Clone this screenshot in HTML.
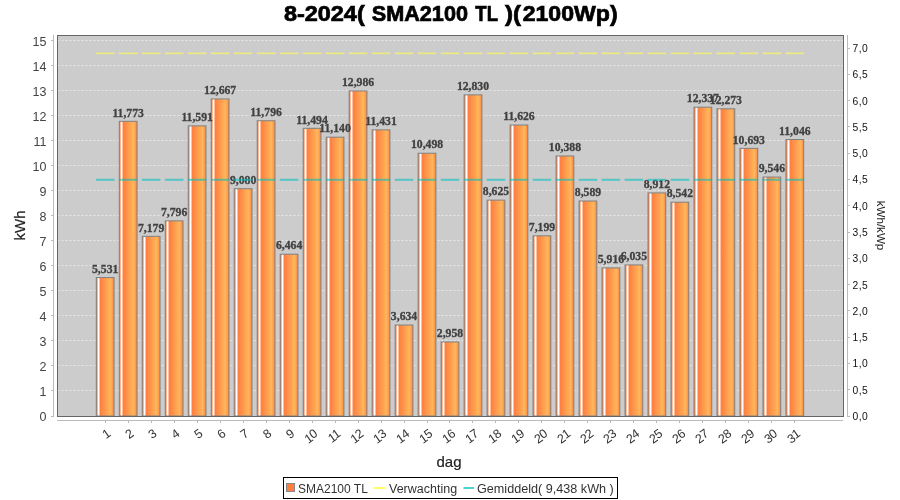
<!DOCTYPE html><html><head><meta charset="utf-8"><style>html,body{margin:0;padding:0;background:#fff;width:900px;height:500px;overflow:hidden}svg{display:block;will-change:transform}</style></head><body>
<svg width="900" height="500" viewBox="0 0 900 500">
<defs>
<linearGradient id="bg" x1="0" y1="0" x2="1" y2="0"><stop offset="0" stop-color="#FF8040"/><stop offset="0.1" stop-color="#fff"/><stop offset="0.2" stop-color="#FF8040"/><stop offset="0.8" stop-color="#FFB75B"/><stop offset="1" stop-color="#FF8040"/></linearGradient>
</defs>
<rect x="0" y="0" width="900" height="500" fill="#fff"/>
<text x="283.90" y="21" font-family='"Liberation Sans", sans-serif' font-weight="bold" font-size="21.5" fill="#000" stroke="#000" stroke-width="0.7" textLength="80.80" lengthAdjust="spacingAndGlyphs">8-2024(</text>
<text x="371.70" y="21" font-family='"Liberation Sans", sans-serif' font-weight="bold" font-size="21.5" fill="#000" stroke="#000" stroke-width="0.7" textLength="96.30" lengthAdjust="spacingAndGlyphs">SMA2100</text>
<text x="475.30" y="21" font-family='"Liberation Sans", sans-serif' font-weight="bold" font-size="21.5" fill="#000" stroke="#000" stroke-width="0.7" textLength="22.70" lengthAdjust="spacingAndGlyphs">TL</text>
<text x="505.00" y="21" font-family='"Liberation Sans", sans-serif' font-weight="bold" font-size="21.5" fill="#000" stroke="#000" stroke-width="0.7" textLength="16.00" lengthAdjust="spacingAndGlyphs">)(</text>
<text x="522.70" y="21" font-family='"Liberation Sans", sans-serif' font-weight="bold" font-size="21.5" fill="#000" stroke="#000" stroke-width="0.7" textLength="94.90" lengthAdjust="spacingAndGlyphs">2100Wp)</text>
<rect x="57" y="35" width="786" height="381" fill="#CCCCCC"/>
<line x1="57.5" y1="390.5" x2="843" y2="390.5" stroke="#fff" stroke-opacity="0.5" stroke-width="1" stroke-dasharray="2,2"/>
<line x1="57.5" y1="365.5" x2="843" y2="365.5" stroke="#fff" stroke-opacity="0.5" stroke-width="1" stroke-dasharray="2,2"/>
<line x1="57.5" y1="340.5" x2="843" y2="340.5" stroke="#fff" stroke-opacity="0.5" stroke-width="1" stroke-dasharray="2,2"/>
<line x1="57.5" y1="315.5" x2="843" y2="315.5" stroke="#fff" stroke-opacity="0.5" stroke-width="1" stroke-dasharray="2,2"/>
<line x1="57.5" y1="290.5" x2="843" y2="290.5" stroke="#fff" stroke-opacity="0.5" stroke-width="1" stroke-dasharray="2,2"/>
<line x1="57.5" y1="265.5" x2="843" y2="265.5" stroke="#fff" stroke-opacity="0.5" stroke-width="1" stroke-dasharray="2,2"/>
<line x1="57.5" y1="240.5" x2="843" y2="240.5" stroke="#fff" stroke-opacity="0.5" stroke-width="1" stroke-dasharray="2,2"/>
<line x1="57.5" y1="215.5" x2="843" y2="215.5" stroke="#fff" stroke-opacity="0.5" stroke-width="1" stroke-dasharray="2,2"/>
<line x1="57.5" y1="190.5" x2="843" y2="190.5" stroke="#fff" stroke-opacity="0.5" stroke-width="1" stroke-dasharray="2,2"/>
<line x1="57.5" y1="165.5" x2="843" y2="165.5" stroke="#fff" stroke-opacity="0.5" stroke-width="1" stroke-dasharray="2,2"/>
<line x1="57.5" y1="140.5" x2="843" y2="140.5" stroke="#fff" stroke-opacity="0.5" stroke-width="1" stroke-dasharray="2,2"/>
<line x1="57.5" y1="115.5" x2="843" y2="115.5" stroke="#fff" stroke-opacity="0.5" stroke-width="1" stroke-dasharray="2,2"/>
<line x1="57.5" y1="90.5" x2="843" y2="90.5" stroke="#fff" stroke-opacity="0.5" stroke-width="1" stroke-dasharray="2,2"/>
<line x1="57.5" y1="65.5" x2="843" y2="65.5" stroke="#fff" stroke-opacity="0.5" stroke-width="1" stroke-dasharray="2,2"/>
<line x1="57.5" y1="40.5" x2="843" y2="40.5" stroke="#fff" stroke-opacity="0.5" stroke-width="1" stroke-dasharray="2,2"/>
<defs><linearGradient id="g0" gradientUnits="userSpaceOnUse" x1="96.800" y1="0" x2="114.548" y2="0"><stop offset="0" stop-color="#FF8040"/><stop offset="0.0958" stop-color="#FFFFFF"/><stop offset="0.2085" stop-color="#FF8040"/><stop offset="0.7719" stop-color="#FFB65B"/><stop offset="1" stop-color="#FF8040"/></linearGradient><linearGradient id="g1" gradientUnits="userSpaceOnUse" x1="119.788" y1="0" x2="137.537" y2="0"><stop offset="0" stop-color="#FF8040"/><stop offset="0.0964" stop-color="#FFFFFF"/><stop offset="0.2091" stop-color="#FF8040"/><stop offset="0.7726" stop-color="#FFB65B"/><stop offset="1" stop-color="#FF8040"/></linearGradient><linearGradient id="g2" gradientUnits="userSpaceOnUse" x1="142.777" y1="0" x2="160.525" y2="0"><stop offset="0" stop-color="#FF8040"/><stop offset="0.0971" stop-color="#FFFFFF"/><stop offset="0.2098" stop-color="#FF8040"/><stop offset="0.7732" stop-color="#FFB65B"/><stop offset="1" stop-color="#FF8040"/></linearGradient><linearGradient id="g3" gradientUnits="userSpaceOnUse" x1="165.765" y1="0" x2="183.514" y2="0"><stop offset="0" stop-color="#FF8040"/><stop offset="0.0977" stop-color="#FFFFFF"/><stop offset="0.2104" stop-color="#FF8040"/><stop offset="0.7739" stop-color="#FFB65B"/><stop offset="1" stop-color="#FF8040"/></linearGradient><linearGradient id="g4" gradientUnits="userSpaceOnUse" x1="188.754" y1="0" x2="206.502" y2="0"><stop offset="0" stop-color="#FF8040"/><stop offset="0.0984" stop-color="#FFFFFF"/><stop offset="0.2111" stop-color="#FF8040"/><stop offset="0.7745" stop-color="#FFB65B"/><stop offset="1" stop-color="#FF8040"/></linearGradient><linearGradient id="g5" gradientUnits="userSpaceOnUse" x1="211.742" y1="0" x2="229.490" y2="0"><stop offset="0" stop-color="#FF8040"/><stop offset="0.0991" stop-color="#FFFFFF"/><stop offset="0.2117" stop-color="#FF8040"/><stop offset="0.7752" stop-color="#FFB65B"/><stop offset="1" stop-color="#FF8040"/></linearGradient><linearGradient id="g6" gradientUnits="userSpaceOnUse" x1="234.730" y1="0" x2="252.479" y2="0"><stop offset="0" stop-color="#FF8040"/><stop offset="0.0997" stop-color="#FFFFFF"/><stop offset="0.2124" stop-color="#FF8040"/><stop offset="0.7758" stop-color="#FFB65B"/><stop offset="1" stop-color="#FF8040"/></linearGradient><linearGradient id="g7" gradientUnits="userSpaceOnUse" x1="257.719" y1="0" x2="275.467" y2="0"><stop offset="0" stop-color="#FF8040"/><stop offset="0.1004" stop-color="#FFFFFF"/><stop offset="0.2130" stop-color="#FF8040"/><stop offset="0.7765" stop-color="#FFB65B"/><stop offset="1" stop-color="#FF8040"/></linearGradient><linearGradient id="g8" gradientUnits="userSpaceOnUse" x1="280.707" y1="0" x2="298.455" y2="0"><stop offset="0" stop-color="#FF8040"/><stop offset="0.1010" stop-color="#FFFFFF"/><stop offset="0.2137" stop-color="#FF8040"/><stop offset="0.7771" stop-color="#FFB65B"/><stop offset="1" stop-color="#FF8040"/></linearGradient><linearGradient id="g9" gradientUnits="userSpaceOnUse" x1="303.695" y1="0" x2="321.444" y2="0"><stop offset="0" stop-color="#FF8040"/><stop offset="0.1017" stop-color="#FFFFFF"/><stop offset="0.2144" stop-color="#FF8040"/><stop offset="0.7778" stop-color="#FFB65B"/><stop offset="1" stop-color="#FF8040"/></linearGradient><linearGradient id="g10" gradientUnits="userSpaceOnUse" x1="326.684" y1="0" x2="344.432" y2="0"><stop offset="0" stop-color="#FF8040"/><stop offset="0.1023" stop-color="#FFFFFF"/><stop offset="0.2150" stop-color="#FF8040"/><stop offset="0.7784" stop-color="#FFB65B"/><stop offset="1" stop-color="#FF8040"/></linearGradient><linearGradient id="g11" gradientUnits="userSpaceOnUse" x1="349.672" y1="0" x2="367.421" y2="0"><stop offset="0" stop-color="#FF8040"/><stop offset="0.1030" stop-color="#FFFFFF"/><stop offset="0.2157" stop-color="#FF8040"/><stop offset="0.7791" stop-color="#FFB65B"/><stop offset="1" stop-color="#FF8040"/></linearGradient><linearGradient id="g12" gradientUnits="userSpaceOnUse" x1="372.661" y1="0" x2="390.409" y2="0"><stop offset="0" stop-color="#FF8040"/><stop offset="0.1036" stop-color="#FFFFFF"/><stop offset="0.2163" stop-color="#FF8040"/><stop offset="0.7798" stop-color="#FFB65B"/><stop offset="1" stop-color="#FF8040"/></linearGradient><linearGradient id="g13" gradientUnits="userSpaceOnUse" x1="395.649" y1="0" x2="413.397" y2="0"><stop offset="0" stop-color="#FF8040"/><stop offset="0.1043" stop-color="#FFFFFF"/><stop offset="0.2170" stop-color="#FF8040"/><stop offset="0.7804" stop-color="#FFB65B"/><stop offset="1" stop-color="#FF8040"/></linearGradient><linearGradient id="g14" gradientUnits="userSpaceOnUse" x1="418.637" y1="0" x2="436.386" y2="0"><stop offset="0" stop-color="#FF8040"/><stop offset="0.1049" stop-color="#FFFFFF"/><stop offset="0.2176" stop-color="#FF8040"/><stop offset="0.7811" stop-color="#FFB65B"/><stop offset="1" stop-color="#FF8040"/></linearGradient><linearGradient id="g15" gradientUnits="userSpaceOnUse" x1="441.626" y1="0" x2="459.374" y2="0"><stop offset="0" stop-color="#FF8040"/><stop offset="0.1056" stop-color="#FFFFFF"/><stop offset="0.2183" stop-color="#FF8040"/><stop offset="0.7817" stop-color="#FFB65B"/><stop offset="1" stop-color="#FF8040"/></linearGradient><linearGradient id="g16" gradientUnits="userSpaceOnUse" x1="464.614" y1="0" x2="482.363" y2="0"><stop offset="0" stop-color="#FF8040"/><stop offset="0.1063" stop-color="#FFFFFF"/><stop offset="0.2189" stop-color="#FF8040"/><stop offset="0.7824" stop-color="#FFB65B"/><stop offset="1" stop-color="#FF8040"/></linearGradient><linearGradient id="g17" gradientUnits="userSpaceOnUse" x1="487.603" y1="0" x2="505.351" y2="0"><stop offset="0" stop-color="#FF8040"/><stop offset="0.1069" stop-color="#FFFFFF"/><stop offset="0.2196" stop-color="#FF8040"/><stop offset="0.7830" stop-color="#FFB65B"/><stop offset="1" stop-color="#FF8040"/></linearGradient><linearGradient id="g18" gradientUnits="userSpaceOnUse" x1="510.591" y1="0" x2="528.339" y2="0"><stop offset="0" stop-color="#FF8040"/><stop offset="0.1076" stop-color="#FFFFFF"/><stop offset="0.2202" stop-color="#FF8040"/><stop offset="0.7837" stop-color="#FFB65B"/><stop offset="1" stop-color="#FF8040"/></linearGradient><linearGradient id="g19" gradientUnits="userSpaceOnUse" x1="533.579" y1="0" x2="551.328" y2="0"><stop offset="0" stop-color="#FF8040"/><stop offset="0.1082" stop-color="#FFFFFF"/><stop offset="0.2209" stop-color="#FF8040"/><stop offset="0.7843" stop-color="#FFB65B"/><stop offset="1" stop-color="#FF8040"/></linearGradient><linearGradient id="g20" gradientUnits="userSpaceOnUse" x1="556.568" y1="0" x2="574.316" y2="0"><stop offset="0" stop-color="#FF8040"/><stop offset="0.1089" stop-color="#FFFFFF"/><stop offset="0.2216" stop-color="#FF8040"/><stop offset="0.7850" stop-color="#FFB65B"/><stop offset="1" stop-color="#FF8040"/></linearGradient><linearGradient id="g21" gradientUnits="userSpaceOnUse" x1="579.556" y1="0" x2="597.305" y2="0"><stop offset="0" stop-color="#FF8040"/><stop offset="0.1095" stop-color="#FFFFFF"/><stop offset="0.2222" stop-color="#FF8040"/><stop offset="0.7856" stop-color="#FFB65B"/><stop offset="1" stop-color="#FF8040"/></linearGradient><linearGradient id="g22" gradientUnits="userSpaceOnUse" x1="602.545" y1="0" x2="620.293" y2="0"><stop offset="0" stop-color="#FF8040"/><stop offset="0.1102" stop-color="#FFFFFF"/><stop offset="0.2229" stop-color="#FF8040"/><stop offset="0.7863" stop-color="#FFB65B"/><stop offset="1" stop-color="#FF8040"/></linearGradient><linearGradient id="g23" gradientUnits="userSpaceOnUse" x1="625.533" y1="0" x2="643.281" y2="0"><stop offset="0" stop-color="#FF8040"/><stop offset="0.1108" stop-color="#FFFFFF"/><stop offset="0.2235" stop-color="#FF8040"/><stop offset="0.7870" stop-color="#FFB65B"/><stop offset="1" stop-color="#FF8040"/></linearGradient><linearGradient id="g24" gradientUnits="userSpaceOnUse" x1="648.521" y1="0" x2="666.270" y2="0"><stop offset="0" stop-color="#FF8040"/><stop offset="0.1115" stop-color="#FFFFFF"/><stop offset="0.2242" stop-color="#FF8040"/><stop offset="0.7876" stop-color="#FFB65B"/><stop offset="1" stop-color="#FF8040"/></linearGradient><linearGradient id="g25" gradientUnits="userSpaceOnUse" x1="671.510" y1="0" x2="689.258" y2="0"><stop offset="0" stop-color="#FF8040"/><stop offset="0.1121" stop-color="#FFFFFF"/><stop offset="0.2248" stop-color="#FF8040"/><stop offset="0.7883" stop-color="#FFB65B"/><stop offset="1" stop-color="#FF8040"/></linearGradient><linearGradient id="g26" gradientUnits="userSpaceOnUse" x1="694.498" y1="0" x2="712.246" y2="0"><stop offset="0" stop-color="#FF8040"/><stop offset="0.1128" stop-color="#FFFFFF"/><stop offset="0.2255" stop-color="#FF8040"/><stop offset="0.7889" stop-color="#FFB65B"/><stop offset="1" stop-color="#FF8040"/></linearGradient><linearGradient id="g27" gradientUnits="userSpaceOnUse" x1="717.486" y1="0" x2="735.235" y2="0"><stop offset="0" stop-color="#FF8040"/><stop offset="0.1134" stop-color="#FFFFFF"/><stop offset="0.2261" stop-color="#FF8040"/><stop offset="0.7896" stop-color="#FFB65B"/><stop offset="1" stop-color="#FF8040"/></linearGradient><linearGradient id="g28" gradientUnits="userSpaceOnUse" x1="740.475" y1="0" x2="758.223" y2="0"><stop offset="0" stop-color="#FF8040"/><stop offset="0.1141" stop-color="#FFFFFF"/><stop offset="0.2268" stop-color="#FF8040"/><stop offset="0.7902" stop-color="#FFB65B"/><stop offset="1" stop-color="#FF8040"/></linearGradient><linearGradient id="g29" gradientUnits="userSpaceOnUse" x1="763.463" y1="0" x2="781.212" y2="0"><stop offset="0" stop-color="#FF8040"/><stop offset="0.1148" stop-color="#FFFFFF"/><stop offset="0.2274" stop-color="#FF8040"/><stop offset="0.7909" stop-color="#FFB65B"/><stop offset="1" stop-color="#FF8040"/></linearGradient><linearGradient id="g30" gradientUnits="userSpaceOnUse" x1="786.452" y1="0" x2="804.200" y2="0"><stop offset="0" stop-color="#FF8040"/><stop offset="0.1154" stop-color="#FFFFFF"/><stop offset="0.2281" stop-color="#FF8040"/><stop offset="0.7915" stop-color="#FFB65B"/><stop offset="1" stop-color="#FF8040"/></linearGradient></defs>
<rect x="96.300" y="277.559" width="17.748" height="138.441" fill="url(#g0)" stroke="#808080" stroke-width="1"/>
<rect x="119.288" y="121.322" width="17.748" height="294.678" fill="url(#g1)" stroke="#808080" stroke-width="1"/>
<rect x="142.277" y="236.310" width="17.748" height="179.690" fill="url(#g2)" stroke="#808080" stroke-width="1"/>
<rect x="165.265" y="220.866" width="17.748" height="195.134" fill="url(#g3)" stroke="#808080" stroke-width="1"/>
<rect x="188.254" y="125.877" width="17.748" height="290.123" fill="url(#g4)" stroke="#808080" stroke-width="1"/>
<rect x="211.242" y="98.945" width="17.748" height="317.055" fill="url(#g5)" stroke="#808080" stroke-width="1"/>
<rect x="234.230" y="188.728" width="17.748" height="227.272" fill="url(#g6)" stroke="#808080" stroke-width="1"/>
<rect x="257.219" y="120.746" width="17.748" height="295.254" fill="url(#g7)" stroke="#808080" stroke-width="1"/>
<rect x="280.207" y="254.206" width="17.748" height="161.794" fill="url(#g8)" stroke="#808080" stroke-width="1"/>
<rect x="303.195" y="128.305" width="17.748" height="287.695" fill="url(#g9)" stroke="#808080" stroke-width="1"/>
<rect x="326.184" y="137.166" width="17.748" height="278.834" fill="url(#g10)" stroke="#808080" stroke-width="1"/>
<rect x="349.172" y="90.960" width="17.748" height="325.040" fill="url(#g11)" stroke="#808080" stroke-width="1"/>
<rect x="372.161" y="129.882" width="17.748" height="286.118" fill="url(#g12)" stroke="#808080" stroke-width="1"/>
<rect x="395.149" y="325.041" width="17.748" height="90.959" fill="url(#g13)" stroke="#808080" stroke-width="1"/>
<rect x="418.137" y="153.235" width="17.748" height="262.765" fill="url(#g14)" stroke="#808080" stroke-width="1"/>
<rect x="441.126" y="341.961" width="17.748" height="74.039" fill="url(#g15)" stroke="#808080" stroke-width="1"/>
<rect x="464.114" y="94.865" width="17.748" height="321.135" fill="url(#g16)" stroke="#808080" stroke-width="1"/>
<rect x="487.103" y="200.116" width="17.748" height="215.884" fill="url(#g17)" stroke="#808080" stroke-width="1"/>
<rect x="510.091" y="125.001" width="17.748" height="290.999" fill="url(#g18)" stroke="#808080" stroke-width="1"/>
<rect x="533.079" y="235.809" width="17.748" height="180.191" fill="url(#g19)" stroke="#808080" stroke-width="1"/>
<rect x="556.068" y="155.988" width="17.748" height="260.012" fill="url(#g20)" stroke="#808080" stroke-width="1"/>
<rect x="579.056" y="201.017" width="17.748" height="214.983" fill="url(#g21)" stroke="#808080" stroke-width="1"/>
<rect x="602.045" y="267.923" width="17.748" height="148.077" fill="url(#g22)" stroke="#808080" stroke-width="1"/>
<rect x="625.033" y="264.944" width="17.748" height="151.056" fill="url(#g23)" stroke="#808080" stroke-width="1"/>
<rect x="648.021" y="192.933" width="17.748" height="223.067" fill="url(#g24)" stroke="#808080" stroke-width="1"/>
<rect x="671.010" y="202.194" width="17.748" height="213.806" fill="url(#g25)" stroke="#808080" stroke-width="1"/>
<rect x="693.998" y="107.205" width="17.748" height="308.795" fill="url(#g26)" stroke="#808080" stroke-width="1"/>
<rect x="716.986" y="108.807" width="17.748" height="307.193" fill="url(#g27)" stroke="#808080" stroke-width="1"/>
<rect x="739.975" y="148.354" width="17.748" height="267.646" fill="url(#g28)" stroke="#808080" stroke-width="1"/>
<rect x="762.963" y="177.064" width="17.748" height="238.936" fill="url(#g29)" stroke="#808080" stroke-width="1"/>
<rect x="785.952" y="139.519" width="17.748" height="276.481" fill="url(#g30)" stroke="#808080" stroke-width="1"/>
<text x="105.17" y="273" text-anchor="middle" font-family='"Liberation Serif", serif' font-weight="bold" font-size="11.7" fill="#404040" stroke="#404040" stroke-width="0.3">5,531</text>
<text x="128.16" y="117" text-anchor="middle" font-family='"Liberation Serif", serif' font-weight="bold" font-size="11.7" fill="#404040" stroke="#404040" stroke-width="0.3">11,773</text>
<text x="151.15" y="232" text-anchor="middle" font-family='"Liberation Serif", serif' font-weight="bold" font-size="11.7" fill="#404040" stroke="#404040" stroke-width="0.3">7,179</text>
<text x="174.14" y="216" text-anchor="middle" font-family='"Liberation Serif", serif' font-weight="bold" font-size="11.7" fill="#404040" stroke="#404040" stroke-width="0.3">7,796</text>
<text x="197.13" y="121" text-anchor="middle" font-family='"Liberation Serif", serif' font-weight="bold" font-size="11.7" fill="#404040" stroke="#404040" stroke-width="0.3">11,591</text>
<text x="220.12" y="94" text-anchor="middle" font-family='"Liberation Serif", serif' font-weight="bold" font-size="11.7" fill="#404040" stroke="#404040" stroke-width="0.3">12,667</text>
<text x="243.10" y="184" text-anchor="middle" font-family='"Liberation Serif", serif' font-weight="bold" font-size="11.7" fill="#404040" stroke="#404040" stroke-width="0.3">9,080</text>
<text x="266.09" y="116" text-anchor="middle" font-family='"Liberation Serif", serif' font-weight="bold" font-size="11.7" fill="#404040" stroke="#404040" stroke-width="0.3">11,796</text>
<text x="289.08" y="249" text-anchor="middle" font-family='"Liberation Serif", serif' font-weight="bold" font-size="11.7" fill="#404040" stroke="#404040" stroke-width="0.3">6,464</text>
<text x="312.07" y="124" text-anchor="middle" font-family='"Liberation Serif", serif' font-weight="bold" font-size="11.7" fill="#404040" stroke="#404040" stroke-width="0.3">11,494</text>
<text x="335.06" y="132" text-anchor="middle" font-family='"Liberation Serif", serif' font-weight="bold" font-size="11.7" fill="#404040" stroke="#404040" stroke-width="0.3">11,140</text>
<text x="358.05" y="86" text-anchor="middle" font-family='"Liberation Serif", serif' font-weight="bold" font-size="11.7" fill="#404040" stroke="#404040" stroke-width="0.3">12,986</text>
<text x="381.03" y="125" text-anchor="middle" font-family='"Liberation Serif", serif' font-weight="bold" font-size="11.7" fill="#404040" stroke="#404040" stroke-width="0.3">11,431</text>
<text x="404.02" y="320" text-anchor="middle" font-family='"Liberation Serif", serif' font-weight="bold" font-size="11.7" fill="#404040" stroke="#404040" stroke-width="0.3">3,634</text>
<text x="427.01" y="148" text-anchor="middle" font-family='"Liberation Serif", serif' font-weight="bold" font-size="11.7" fill="#404040" stroke="#404040" stroke-width="0.3">10,498</text>
<text x="450.00" y="337" text-anchor="middle" font-family='"Liberation Serif", serif' font-weight="bold" font-size="11.7" fill="#404040" stroke="#404040" stroke-width="0.3">2,958</text>
<text x="472.99" y="90" text-anchor="middle" font-family='"Liberation Serif", serif' font-weight="bold" font-size="11.7" fill="#404040" stroke="#404040" stroke-width="0.3">12,830</text>
<text x="495.98" y="195" text-anchor="middle" font-family='"Liberation Serif", serif' font-weight="bold" font-size="11.7" fill="#404040" stroke="#404040" stroke-width="0.3">8,625</text>
<text x="518.97" y="120" text-anchor="middle" font-family='"Liberation Serif", serif' font-weight="bold" font-size="11.7" fill="#404040" stroke="#404040" stroke-width="0.3">11,626</text>
<text x="541.95" y="231" text-anchor="middle" font-family='"Liberation Serif", serif' font-weight="bold" font-size="11.7" fill="#404040" stroke="#404040" stroke-width="0.3">7,199</text>
<text x="564.94" y="151" text-anchor="middle" font-family='"Liberation Serif", serif' font-weight="bold" font-size="11.7" fill="#404040" stroke="#404040" stroke-width="0.3">10,388</text>
<text x="587.93" y="196" text-anchor="middle" font-family='"Liberation Serif", serif' font-weight="bold" font-size="11.7" fill="#404040" stroke="#404040" stroke-width="0.3">8,589</text>
<text x="610.92" y="263" text-anchor="middle" font-family='"Liberation Serif", serif' font-weight="bold" font-size="11.7" fill="#404040" stroke="#404040" stroke-width="0.3">5,916</text>
<text x="633.91" y="260" text-anchor="middle" font-family='"Liberation Serif", serif' font-weight="bold" font-size="11.7" fill="#404040" stroke="#404040" stroke-width="0.3">6,035</text>
<text x="656.90" y="188" text-anchor="middle" font-family='"Liberation Serif", serif' font-weight="bold" font-size="11.7" fill="#404040" stroke="#404040" stroke-width="0.3">8,912</text>
<text x="679.88" y="197" text-anchor="middle" font-family='"Liberation Serif", serif' font-weight="bold" font-size="11.7" fill="#404040" stroke="#404040" stroke-width="0.3">8,542</text>
<text x="702.87" y="102" text-anchor="middle" font-family='"Liberation Serif", serif' font-weight="bold" font-size="11.7" fill="#404040" stroke="#404040" stroke-width="0.3">12,337</text>
<text x="725.86" y="104" text-anchor="middle" font-family='"Liberation Serif", serif' font-weight="bold" font-size="11.7" fill="#404040" stroke="#404040" stroke-width="0.3">12,273</text>
<text x="748.85" y="144" text-anchor="middle" font-family='"Liberation Serif", serif' font-weight="bold" font-size="11.7" fill="#404040" stroke="#404040" stroke-width="0.3">10,693</text>
<text x="771.84" y="172" text-anchor="middle" font-family='"Liberation Serif", serif' font-weight="bold" font-size="11.7" fill="#404040" stroke="#404040" stroke-width="0.3">9,546</text>
<text x="794.83" y="135" text-anchor="middle" font-family='"Liberation Serif", serif' font-weight="bold" font-size="11.7" fill="#404040" stroke="#404040" stroke-width="0.3">11,046</text>
<line x1="95.90" y1="53.35" x2="114.45" y2="53.35" stroke="#EAEA84" stroke-width="1.8"/>
<line x1="118.89" y1="53.35" x2="137.44" y2="53.35" stroke="#EAEA84" stroke-width="1.8"/>
<line x1="141.88" y1="53.35" x2="160.43" y2="53.35" stroke="#EAEA84" stroke-width="1.8"/>
<line x1="164.87" y1="53.35" x2="183.41" y2="53.35" stroke="#EAEA84" stroke-width="1.8"/>
<line x1="187.85" y1="53.35" x2="206.40" y2="53.35" stroke="#EAEA84" stroke-width="1.8"/>
<line x1="210.84" y1="53.35" x2="229.39" y2="53.35" stroke="#EAEA84" stroke-width="1.8"/>
<line x1="233.83" y1="53.35" x2="252.38" y2="53.35" stroke="#EAEA84" stroke-width="1.8"/>
<line x1="256.82" y1="53.35" x2="275.37" y2="53.35" stroke="#EAEA84" stroke-width="1.8"/>
<line x1="279.81" y1="53.35" x2="298.36" y2="53.35" stroke="#EAEA84" stroke-width="1.8"/>
<line x1="302.80" y1="53.35" x2="321.34" y2="53.35" stroke="#EAEA84" stroke-width="1.8"/>
<line x1="325.78" y1="53.35" x2="344.33" y2="53.35" stroke="#EAEA84" stroke-width="1.8"/>
<line x1="348.77" y1="53.35" x2="367.32" y2="53.35" stroke="#EAEA84" stroke-width="1.8"/>
<line x1="371.76" y1="53.35" x2="390.31" y2="53.35" stroke="#EAEA84" stroke-width="1.8"/>
<line x1="394.75" y1="53.35" x2="413.30" y2="53.35" stroke="#EAEA84" stroke-width="1.8"/>
<line x1="417.74" y1="53.35" x2="436.29" y2="53.35" stroke="#EAEA84" stroke-width="1.8"/>
<line x1="440.73" y1="53.35" x2="459.27" y2="53.35" stroke="#EAEA84" stroke-width="1.8"/>
<line x1="463.71" y1="53.35" x2="482.26" y2="53.35" stroke="#EAEA84" stroke-width="1.8"/>
<line x1="486.70" y1="53.35" x2="505.25" y2="53.35" stroke="#EAEA84" stroke-width="1.8"/>
<line x1="509.69" y1="53.35" x2="528.24" y2="53.35" stroke="#EAEA84" stroke-width="1.8"/>
<line x1="532.68" y1="53.35" x2="551.23" y2="53.35" stroke="#EAEA84" stroke-width="1.8"/>
<line x1="555.67" y1="53.35" x2="574.22" y2="53.35" stroke="#EAEA84" stroke-width="1.8"/>
<line x1="578.66" y1="53.35" x2="597.20" y2="53.35" stroke="#EAEA84" stroke-width="1.8"/>
<line x1="601.64" y1="53.35" x2="620.19" y2="53.35" stroke="#EAEA84" stroke-width="1.8"/>
<line x1="624.63" y1="53.35" x2="643.18" y2="53.35" stroke="#EAEA84" stroke-width="1.8"/>
<line x1="647.62" y1="53.35" x2="666.17" y2="53.35" stroke="#EAEA84" stroke-width="1.8"/>
<line x1="670.61" y1="53.35" x2="689.16" y2="53.35" stroke="#EAEA84" stroke-width="1.8"/>
<line x1="693.60" y1="53.35" x2="712.15" y2="53.35" stroke="#EAEA84" stroke-width="1.8"/>
<line x1="716.59" y1="53.35" x2="735.13" y2="53.35" stroke="#EAEA84" stroke-width="1.8"/>
<line x1="739.57" y1="53.35" x2="758.12" y2="53.35" stroke="#EAEA84" stroke-width="1.8"/>
<line x1="762.56" y1="53.35" x2="781.11" y2="53.35" stroke="#EAEA84" stroke-width="1.8"/>
<line x1="785.55" y1="53.35" x2="804.10" y2="53.35" stroke="#EAEA84" stroke-width="1.8"/>
<line x1="95.90" y1="179.77" x2="114.45" y2="179.77" stroke="#00C0C0" stroke-opacity="0.6" stroke-width="2"/>
<line x1="118.89" y1="179.77" x2="137.44" y2="179.77" stroke="#00C0C0" stroke-opacity="0.6" stroke-width="2"/>
<line x1="141.88" y1="179.77" x2="160.43" y2="179.77" stroke="#00C0C0" stroke-opacity="0.6" stroke-width="2"/>
<line x1="164.87" y1="179.77" x2="183.41" y2="179.77" stroke="#00C0C0" stroke-opacity="0.6" stroke-width="2"/>
<line x1="187.85" y1="179.77" x2="206.40" y2="179.77" stroke="#00C0C0" stroke-opacity="0.6" stroke-width="2"/>
<line x1="210.84" y1="179.77" x2="229.39" y2="179.77" stroke="#00C0C0" stroke-opacity="0.6" stroke-width="2"/>
<line x1="233.83" y1="179.77" x2="252.38" y2="179.77" stroke="#00C0C0" stroke-opacity="0.6" stroke-width="2"/>
<line x1="256.82" y1="179.77" x2="275.37" y2="179.77" stroke="#00C0C0" stroke-opacity="0.6" stroke-width="2"/>
<line x1="279.81" y1="179.77" x2="298.36" y2="179.77" stroke="#00C0C0" stroke-opacity="0.6" stroke-width="2"/>
<line x1="302.80" y1="179.77" x2="321.34" y2="179.77" stroke="#00C0C0" stroke-opacity="0.6" stroke-width="2"/>
<line x1="325.78" y1="179.77" x2="344.33" y2="179.77" stroke="#00C0C0" stroke-opacity="0.6" stroke-width="2"/>
<line x1="348.77" y1="179.77" x2="367.32" y2="179.77" stroke="#00C0C0" stroke-opacity="0.6" stroke-width="2"/>
<line x1="371.76" y1="179.77" x2="390.31" y2="179.77" stroke="#00C0C0" stroke-opacity="0.6" stroke-width="2"/>
<line x1="394.75" y1="179.77" x2="413.30" y2="179.77" stroke="#00C0C0" stroke-opacity="0.6" stroke-width="2"/>
<line x1="417.74" y1="179.77" x2="436.29" y2="179.77" stroke="#00C0C0" stroke-opacity="0.6" stroke-width="2"/>
<line x1="440.73" y1="179.77" x2="459.27" y2="179.77" stroke="#00C0C0" stroke-opacity="0.6" stroke-width="2"/>
<line x1="463.71" y1="179.77" x2="482.26" y2="179.77" stroke="#00C0C0" stroke-opacity="0.6" stroke-width="2"/>
<line x1="486.70" y1="179.77" x2="505.25" y2="179.77" stroke="#00C0C0" stroke-opacity="0.6" stroke-width="2"/>
<line x1="509.69" y1="179.77" x2="528.24" y2="179.77" stroke="#00C0C0" stroke-opacity="0.6" stroke-width="2"/>
<line x1="532.68" y1="179.77" x2="551.23" y2="179.77" stroke="#00C0C0" stroke-opacity="0.6" stroke-width="2"/>
<line x1="555.67" y1="179.77" x2="574.22" y2="179.77" stroke="#00C0C0" stroke-opacity="0.6" stroke-width="2"/>
<line x1="578.66" y1="179.77" x2="597.20" y2="179.77" stroke="#00C0C0" stroke-opacity="0.6" stroke-width="2"/>
<line x1="601.64" y1="179.77" x2="620.19" y2="179.77" stroke="#00C0C0" stroke-opacity="0.6" stroke-width="2"/>
<line x1="624.63" y1="179.77" x2="643.18" y2="179.77" stroke="#00C0C0" stroke-opacity="0.6" stroke-width="2"/>
<line x1="647.62" y1="179.77" x2="666.17" y2="179.77" stroke="#00C0C0" stroke-opacity="0.6" stroke-width="2"/>
<line x1="670.61" y1="179.77" x2="689.16" y2="179.77" stroke="#00C0C0" stroke-opacity="0.6" stroke-width="2"/>
<line x1="693.60" y1="179.77" x2="712.15" y2="179.77" stroke="#00C0C0" stroke-opacity="0.6" stroke-width="2"/>
<line x1="716.59" y1="179.77" x2="735.13" y2="179.77" stroke="#00C0C0" stroke-opacity="0.6" stroke-width="2"/>
<line x1="739.57" y1="179.77" x2="758.12" y2="179.77" stroke="#00C0C0" stroke-opacity="0.6" stroke-width="2"/>
<line x1="762.56" y1="179.77" x2="781.11" y2="179.77" stroke="#00C0C0" stroke-opacity="0.6" stroke-width="2"/>
<line x1="785.55" y1="179.77" x2="804.10" y2="179.77" stroke="#00C0C0" stroke-opacity="0.6" stroke-width="2"/>
<rect x="57.5" y="35.5" width="786" height="381" fill="none" stroke="#666" stroke-width="1"/>
<line x1="53.5" y1="35" x2="53.5" y2="417" stroke="#BBB" stroke-width="1"/>
<line x1="51" y1="416.5" x2="53" y2="416.5" stroke="#BBB" stroke-width="1"/>
<text x="46.5" y="421" text-anchor="end" font-family='"Liberation Sans", sans-serif' font-size="12.5" fill="#444">0</text>
<line x1="51" y1="390.5" x2="53" y2="390.5" stroke="#BBB" stroke-width="1"/>
<text x="46.5" y="396" text-anchor="end" font-family='"Liberation Sans", sans-serif' font-size="12.5" fill="#444">1</text>
<line x1="51" y1="365.5" x2="53" y2="365.5" stroke="#BBB" stroke-width="1"/>
<text x="46.5" y="371" text-anchor="end" font-family='"Liberation Sans", sans-serif' font-size="12.5" fill="#444">2</text>
<line x1="51" y1="340.5" x2="53" y2="340.5" stroke="#BBB" stroke-width="1"/>
<text x="46.5" y="346" text-anchor="end" font-family='"Liberation Sans", sans-serif' font-size="12.5" fill="#444">3</text>
<line x1="51" y1="315.5" x2="53" y2="315.5" stroke="#BBB" stroke-width="1"/>
<text x="46.5" y="321" text-anchor="end" font-family='"Liberation Sans", sans-serif' font-size="12.5" fill="#444">4</text>
<line x1="51" y1="290.5" x2="53" y2="290.5" stroke="#BBB" stroke-width="1"/>
<text x="46.5" y="296" text-anchor="end" font-family='"Liberation Sans", sans-serif' font-size="12.5" fill="#444">5</text>
<line x1="51" y1="265.5" x2="53" y2="265.5" stroke="#BBB" stroke-width="1"/>
<text x="46.5" y="271" text-anchor="end" font-family='"Liberation Sans", sans-serif' font-size="12.5" fill="#444">6</text>
<line x1="51" y1="240.5" x2="53" y2="240.5" stroke="#BBB" stroke-width="1"/>
<text x="46.5" y="246" text-anchor="end" font-family='"Liberation Sans", sans-serif' font-size="12.5" fill="#444">7</text>
<line x1="51" y1="215.5" x2="53" y2="215.5" stroke="#BBB" stroke-width="1"/>
<text x="46.5" y="221" text-anchor="end" font-family='"Liberation Sans", sans-serif' font-size="12.5" fill="#444">8</text>
<line x1="51" y1="190.5" x2="53" y2="190.5" stroke="#BBB" stroke-width="1"/>
<text x="46.5" y="196" text-anchor="end" font-family='"Liberation Sans", sans-serif' font-size="12.5" fill="#444">9</text>
<line x1="51" y1="165.5" x2="53" y2="165.5" stroke="#BBB" stroke-width="1"/>
<text x="46.5" y="171" text-anchor="end" font-family='"Liberation Sans", sans-serif' font-size="12.5" fill="#444">10</text>
<line x1="51" y1="140.5" x2="53" y2="140.5" stroke="#BBB" stroke-width="1"/>
<text x="46.5" y="146" text-anchor="end" font-family='"Liberation Sans", sans-serif' font-size="12.5" fill="#444">11</text>
<line x1="51" y1="115.5" x2="53" y2="115.5" stroke="#BBB" stroke-width="1"/>
<text x="46.5" y="121" text-anchor="end" font-family='"Liberation Sans", sans-serif' font-size="12.5" fill="#444">12</text>
<line x1="51" y1="90.5" x2="53" y2="90.5" stroke="#BBB" stroke-width="1"/>
<text x="46.5" y="96" text-anchor="end" font-family='"Liberation Sans", sans-serif' font-size="12.5" fill="#444">13</text>
<line x1="51" y1="65.5" x2="53" y2="65.5" stroke="#BBB" stroke-width="1"/>
<text x="46.5" y="71" text-anchor="end" font-family='"Liberation Sans", sans-serif' font-size="12.5" fill="#444">14</text>
<line x1="51" y1="40.5" x2="53" y2="40.5" stroke="#BBB" stroke-width="1"/>
<text x="46.5" y="46" text-anchor="end" font-family='"Liberation Sans", sans-serif' font-size="12.5" fill="#444">15</text>
<line x1="847.5" y1="35" x2="847.5" y2="417" stroke="#BBB" stroke-width="1"/>
<line x1="848" y1="416.5" x2="850" y2="416.5" stroke="#BBB" stroke-width="1"/>
<text x="852.5" y="420" font-family='"Liberation Sans", sans-serif' font-size="10.3" letter-spacing="0.4" fill="#111">0,0</text>
<line x1="848" y1="389.5" x2="850" y2="389.5" stroke="#BBB" stroke-width="1"/>
<text x="852.5" y="394" font-family='"Liberation Sans", sans-serif' font-size="10.3" letter-spacing="0.4" fill="#111">0,5</text>
<line x1="848" y1="363.5" x2="850" y2="363.5" stroke="#BBB" stroke-width="1"/>
<text x="852.5" y="367" font-family='"Liberation Sans", sans-serif' font-size="10.3" letter-spacing="0.4" fill="#111">1,0</text>
<line x1="848" y1="337.5" x2="850" y2="337.5" stroke="#BBB" stroke-width="1"/>
<text x="852.5" y="341" font-family='"Liberation Sans", sans-serif' font-size="10.3" letter-spacing="0.4" fill="#111">1,5</text>
<line x1="848" y1="310.5" x2="850" y2="310.5" stroke="#BBB" stroke-width="1"/>
<text x="852.5" y="315" font-family='"Liberation Sans", sans-serif' font-size="10.3" letter-spacing="0.4" fill="#111">2,0</text>
<line x1="848" y1="284.5" x2="850" y2="284.5" stroke="#BBB" stroke-width="1"/>
<text x="852.5" y="289" font-family='"Liberation Sans", sans-serif' font-size="10.3" letter-spacing="0.4" fill="#111">2,5</text>
<line x1="848" y1="258.5" x2="850" y2="258.5" stroke="#BBB" stroke-width="1"/>
<text x="852.5" y="262" font-family='"Liberation Sans", sans-serif' font-size="10.3" letter-spacing="0.4" fill="#111">3,0</text>
<line x1="848" y1="232.5" x2="850" y2="232.5" stroke="#BBB" stroke-width="1"/>
<text x="852.5" y="236" font-family='"Liberation Sans", sans-serif' font-size="10.3" letter-spacing="0.4" fill="#111">3,5</text>
<line x1="848" y1="205.5" x2="850" y2="205.5" stroke="#BBB" stroke-width="1"/>
<text x="852.5" y="210" font-family='"Liberation Sans", sans-serif' font-size="10.3" letter-spacing="0.4" fill="#111">4,0</text>
<line x1="848" y1="179.5" x2="850" y2="179.5" stroke="#BBB" stroke-width="1"/>
<text x="852.5" y="183" font-family='"Liberation Sans", sans-serif' font-size="10.3" letter-spacing="0.4" fill="#111">4,5</text>
<line x1="848" y1="153.5" x2="850" y2="153.5" stroke="#BBB" stroke-width="1"/>
<text x="852.5" y="157" font-family='"Liberation Sans", sans-serif' font-size="10.3" letter-spacing="0.4" fill="#111">5,0</text>
<line x1="848" y1="126.5" x2="850" y2="126.5" stroke="#BBB" stroke-width="1"/>
<text x="852.5" y="131" font-family='"Liberation Sans", sans-serif' font-size="10.3" letter-spacing="0.4" fill="#111">5,5</text>
<line x1="848" y1="100.5" x2="850" y2="100.5" stroke="#BBB" stroke-width="1"/>
<text x="852.5" y="105" font-family='"Liberation Sans", sans-serif' font-size="10.3" letter-spacing="0.4" fill="#111">6,0</text>
<line x1="848" y1="74.5" x2="850" y2="74.5" stroke="#BBB" stroke-width="1"/>
<text x="852.5" y="78" font-family='"Liberation Sans", sans-serif' font-size="10.3" letter-spacing="0.4" fill="#111">6,5</text>
<line x1="848" y1="48.5" x2="850" y2="48.5" stroke="#BBB" stroke-width="1"/>
<text x="852.5" y="52" font-family='"Liberation Sans", sans-serif' font-size="10.3" letter-spacing="0.4" fill="#111">7,0</text>
<line x1="57" y1="420.5" x2="843" y2="420.5" stroke="#BBB" stroke-width="1"/>
<line x1="105.5" y1="421" x2="105.5" y2="423" stroke="#BBB" stroke-width="1"/>
<text x="110.67" y="434.60" text-anchor="end" font-family='"Liberation Sans", sans-serif' font-size="12.5" fill="#333" rotate="10.0" letter-spacing="-0.3" transform="rotate(-45 110.67 434.60)">1</text>
<line x1="128.5" y1="421" x2="128.5" y2="423" stroke="#BBB" stroke-width="1"/>
<text x="133.66" y="434.60" text-anchor="end" font-family='"Liberation Sans", sans-serif' font-size="12.5" fill="#333" rotate="10.0" letter-spacing="-0.3" transform="rotate(-45 133.66 434.60)">2</text>
<line x1="151.5" y1="421" x2="151.5" y2="423" stroke="#BBB" stroke-width="1"/>
<text x="156.65" y="434.60" text-anchor="end" font-family='"Liberation Sans", sans-serif' font-size="12.5" fill="#333" rotate="10.0" letter-spacing="-0.3" transform="rotate(-45 156.65 434.60)">3</text>
<line x1="174.5" y1="421" x2="174.5" y2="423" stroke="#BBB" stroke-width="1"/>
<text x="179.64" y="434.60" text-anchor="end" font-family='"Liberation Sans", sans-serif' font-size="12.5" fill="#333" rotate="10.0" letter-spacing="-0.3" transform="rotate(-45 179.64 434.60)">4</text>
<line x1="197.5" y1="421" x2="197.5" y2="423" stroke="#BBB" stroke-width="1"/>
<text x="202.63" y="434.60" text-anchor="end" font-family='"Liberation Sans", sans-serif' font-size="12.5" fill="#333" rotate="10.0" letter-spacing="-0.3" transform="rotate(-45 202.63 434.60)">5</text>
<line x1="220.5" y1="421" x2="220.5" y2="423" stroke="#BBB" stroke-width="1"/>
<text x="225.62" y="434.60" text-anchor="end" font-family='"Liberation Sans", sans-serif' font-size="12.5" fill="#333" rotate="10.0" letter-spacing="-0.3" transform="rotate(-45 225.62 434.60)">6</text>
<line x1="243.5" y1="421" x2="243.5" y2="423" stroke="#BBB" stroke-width="1"/>
<text x="248.60" y="434.60" text-anchor="end" font-family='"Liberation Sans", sans-serif' font-size="12.5" fill="#333" rotate="10.0" letter-spacing="-0.3" transform="rotate(-45 248.60 434.60)">7</text>
<line x1="266.5" y1="421" x2="266.5" y2="423" stroke="#BBB" stroke-width="1"/>
<text x="271.59" y="434.60" text-anchor="end" font-family='"Liberation Sans", sans-serif' font-size="12.5" fill="#333" rotate="10.0" letter-spacing="-0.3" transform="rotate(-45 271.59 434.60)">8</text>
<line x1="289.5" y1="421" x2="289.5" y2="423" stroke="#BBB" stroke-width="1"/>
<text x="294.58" y="434.60" text-anchor="end" font-family='"Liberation Sans", sans-serif' font-size="12.5" fill="#333" rotate="10.0" letter-spacing="-0.3" transform="rotate(-45 294.58 434.60)">9</text>
<line x1="312.5" y1="421" x2="312.5" y2="423" stroke="#BBB" stroke-width="1"/>
<text x="317.57" y="434.60" text-anchor="end" font-family='"Liberation Sans", sans-serif' font-size="12.5" fill="#333" rotate="10.0" letter-spacing="-0.3" transform="rotate(-45 317.57 434.60)">10</text>
<line x1="335.5" y1="421" x2="335.5" y2="423" stroke="#BBB" stroke-width="1"/>
<text x="340.56" y="434.60" text-anchor="end" font-family='"Liberation Sans", sans-serif' font-size="12.5" fill="#333" rotate="10.0" letter-spacing="-0.3" transform="rotate(-45 340.56 434.60)">11</text>
<line x1="358.5" y1="421" x2="358.5" y2="423" stroke="#BBB" stroke-width="1"/>
<text x="363.55" y="434.60" text-anchor="end" font-family='"Liberation Sans", sans-serif' font-size="12.5" fill="#333" rotate="10.0" letter-spacing="-0.3" transform="rotate(-45 363.55 434.60)">12</text>
<line x1="381.5" y1="421" x2="381.5" y2="423" stroke="#BBB" stroke-width="1"/>
<text x="386.53" y="434.60" text-anchor="end" font-family='"Liberation Sans", sans-serif' font-size="12.5" fill="#333" rotate="10.0" letter-spacing="-0.3" transform="rotate(-45 386.53 434.60)">13</text>
<line x1="404.5" y1="421" x2="404.5" y2="423" stroke="#BBB" stroke-width="1"/>
<text x="409.52" y="434.60" text-anchor="end" font-family='"Liberation Sans", sans-serif' font-size="12.5" fill="#333" rotate="10.0" letter-spacing="-0.3" transform="rotate(-45 409.52 434.60)">14</text>
<line x1="427.5" y1="421" x2="427.5" y2="423" stroke="#BBB" stroke-width="1"/>
<text x="432.51" y="434.60" text-anchor="end" font-family='"Liberation Sans", sans-serif' font-size="12.5" fill="#333" rotate="10.0" letter-spacing="-0.3" transform="rotate(-45 432.51 434.60)">15</text>
<line x1="449.5" y1="421" x2="449.5" y2="423" stroke="#BBB" stroke-width="1"/>
<text x="455.50" y="434.60" text-anchor="end" font-family='"Liberation Sans", sans-serif' font-size="12.5" fill="#333" rotate="10.0" letter-spacing="-0.3" transform="rotate(-45 455.50 434.60)">16</text>
<line x1="472.5" y1="421" x2="472.5" y2="423" stroke="#BBB" stroke-width="1"/>
<text x="478.49" y="434.60" text-anchor="end" font-family='"Liberation Sans", sans-serif' font-size="12.5" fill="#333" rotate="10.0" letter-spacing="-0.3" transform="rotate(-45 478.49 434.60)">17</text>
<line x1="495.5" y1="421" x2="495.5" y2="423" stroke="#BBB" stroke-width="1"/>
<text x="501.48" y="434.60" text-anchor="end" font-family='"Liberation Sans", sans-serif' font-size="12.5" fill="#333" rotate="10.0" letter-spacing="-0.3" transform="rotate(-45 501.48 434.60)">18</text>
<line x1="518.5" y1="421" x2="518.5" y2="423" stroke="#BBB" stroke-width="1"/>
<text x="524.47" y="434.60" text-anchor="end" font-family='"Liberation Sans", sans-serif' font-size="12.5" fill="#333" rotate="10.0" letter-spacing="-0.3" transform="rotate(-45 524.47 434.60)">19</text>
<line x1="541.5" y1="421" x2="541.5" y2="423" stroke="#BBB" stroke-width="1"/>
<text x="547.45" y="434.60" text-anchor="end" font-family='"Liberation Sans", sans-serif' font-size="12.5" fill="#333" rotate="10.0" letter-spacing="-0.3" transform="rotate(-45 547.45 434.60)">20</text>
<line x1="564.5" y1="421" x2="564.5" y2="423" stroke="#BBB" stroke-width="1"/>
<text x="570.44" y="434.60" text-anchor="end" font-family='"Liberation Sans", sans-serif' font-size="12.5" fill="#333" rotate="10.0" letter-spacing="-0.3" transform="rotate(-45 570.44 434.60)">21</text>
<line x1="587.5" y1="421" x2="587.5" y2="423" stroke="#BBB" stroke-width="1"/>
<text x="593.43" y="434.60" text-anchor="end" font-family='"Liberation Sans", sans-serif' font-size="12.5" fill="#333" rotate="10.0" letter-spacing="-0.3" transform="rotate(-45 593.43 434.60)">22</text>
<line x1="610.5" y1="421" x2="610.5" y2="423" stroke="#BBB" stroke-width="1"/>
<text x="616.42" y="434.60" text-anchor="end" font-family='"Liberation Sans", sans-serif' font-size="12.5" fill="#333" rotate="10.0" letter-spacing="-0.3" transform="rotate(-45 616.42 434.60)">23</text>
<line x1="633.5" y1="421" x2="633.5" y2="423" stroke="#BBB" stroke-width="1"/>
<text x="639.41" y="434.60" text-anchor="end" font-family='"Liberation Sans", sans-serif' font-size="12.5" fill="#333" rotate="10.0" letter-spacing="-0.3" transform="rotate(-45 639.41 434.60)">24</text>
<line x1="656.5" y1="421" x2="656.5" y2="423" stroke="#BBB" stroke-width="1"/>
<text x="662.40" y="434.60" text-anchor="end" font-family='"Liberation Sans", sans-serif' font-size="12.5" fill="#333" rotate="10.0" letter-spacing="-0.3" transform="rotate(-45 662.40 434.60)">25</text>
<line x1="679.5" y1="421" x2="679.5" y2="423" stroke="#BBB" stroke-width="1"/>
<text x="685.38" y="434.60" text-anchor="end" font-family='"Liberation Sans", sans-serif' font-size="12.5" fill="#333" rotate="10.0" letter-spacing="-0.3" transform="rotate(-45 685.38 434.60)">26</text>
<line x1="702.5" y1="421" x2="702.5" y2="423" stroke="#BBB" stroke-width="1"/>
<text x="708.37" y="434.60" text-anchor="end" font-family='"Liberation Sans", sans-serif' font-size="12.5" fill="#333" rotate="10.0" letter-spacing="-0.3" transform="rotate(-45 708.37 434.60)">27</text>
<line x1="725.5" y1="421" x2="725.5" y2="423" stroke="#BBB" stroke-width="1"/>
<text x="731.36" y="434.60" text-anchor="end" font-family='"Liberation Sans", sans-serif' font-size="12.5" fill="#333" rotate="10.0" letter-spacing="-0.3" transform="rotate(-45 731.36 434.60)">28</text>
<line x1="748.5" y1="421" x2="748.5" y2="423" stroke="#BBB" stroke-width="1"/>
<text x="754.35" y="434.60" text-anchor="end" font-family='"Liberation Sans", sans-serif' font-size="12.5" fill="#333" rotate="10.0" letter-spacing="-0.3" transform="rotate(-45 754.35 434.60)">29</text>
<line x1="771.5" y1="421" x2="771.5" y2="423" stroke="#BBB" stroke-width="1"/>
<text x="777.34" y="434.60" text-anchor="end" font-family='"Liberation Sans", sans-serif' font-size="12.5" fill="#333" rotate="10.0" letter-spacing="-0.3" transform="rotate(-45 777.34 434.60)">30</text>
<line x1="794.5" y1="421" x2="794.5" y2="423" stroke="#BBB" stroke-width="1"/>
<text x="800.33" y="434.60" text-anchor="end" font-family='"Liberation Sans", sans-serif' font-size="12.5" fill="#333" rotate="10.0" letter-spacing="-0.3" transform="rotate(-45 800.33 434.60)">31</text>
<text x="0" y="0" text-anchor="middle" font-family='"Liberation Sans", sans-serif' font-size="15" fill="#222" stroke="#222" stroke-width="0.2" transform="translate(25 225.5) rotate(-90)">kWh</text>
<text x="449" y="467" text-anchor="middle" font-family='"Liberation Sans", sans-serif' font-size="15" fill="#222" stroke="#222" stroke-width="0.2">dag</text>
<text x="0" y="0" text-anchor="middle" font-family='"Liberation Sans", sans-serif' font-size="11" fill="#222" textLength="49.5" lengthAdjust="spacingAndGlyphs" transform="translate(876.5 225.5) rotate(90)">kWh/kWp</text>
<rect x="283.5" y="477.5" width="334" height="21" fill="#fff" stroke="#000" stroke-width="1"/>
<rect x="286.5" y="483.5" width="8" height="8" fill="#FF7F3F" stroke="#888" stroke-width="1"/>
<text x="298" y="493" font-family='"Liberation Sans", sans-serif' font-size="12" fill="#333">SMA2100 TL</text>
<line x1="374" y1="488" x2="385" y2="488" stroke="#FFFF00" stroke-opacity="0.6" stroke-width="2"/>
<text x="389" y="493" font-family='"Liberation Sans", sans-serif' font-size="12" fill="#333" textLength="68.1" lengthAdjust="spacingAndGlyphs">Verwachting</text>
<line x1="463.5" y1="488" x2="474" y2="488" stroke="#00C0C0" stroke-opacity="0.7" stroke-width="2"/>
<text x="477" y="493" font-family='"Liberation Sans", sans-serif' font-size="12" fill="#333" textLength="136.8" lengthAdjust="spacingAndGlyphs">Gemiddeld( 9,438 kWh )</text>
</svg></body></html>
